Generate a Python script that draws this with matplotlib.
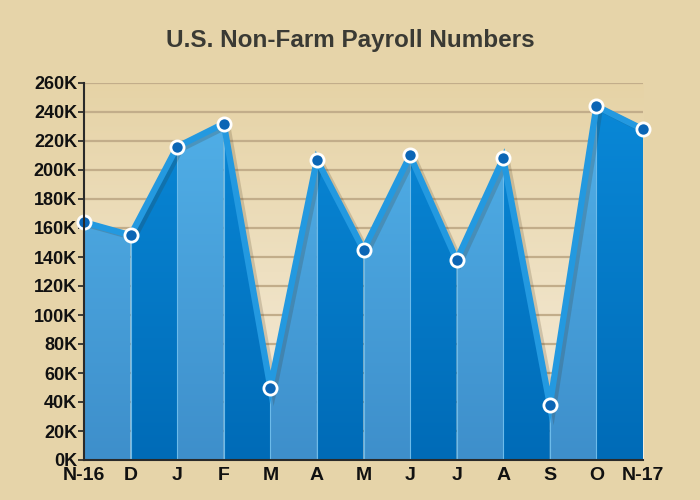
import matplotlib.pyplot as plt
import matplotlib.patheffects as pe
import numpy as np
from matplotlib.patches import Polygon
from matplotlib.colors import LinearSegmentedColormap

# monthly change in non-farm payrolls, thousands
months = ['N-16', 'D', 'J', 'F', 'M', 'A', 'M', 'J', 'J', 'A', 'S', 'O', 'N-17']
payrolls = [164, 155, 216, 232, 50, 207, 145, 210, 138, 208, 38, 244, 228]
y_ticks = list(range(0, 261, 20))
y_labels = [f'{v}K' for v in y_ticks]

plt.rcParams['font.family'] = ['Liberation Sans', 'DejaVu Sans']

fig = plt.figure(figsize=(7, 5), dpi=100, facecolor='#e6d4a9')
ax = fig.add_axes([0.12, 0.08, 0.7986, 0.754])
x = np.arange(len(months))
ymax = 260
ax.set_xlim(0, len(months) - 1)
ax.set_ylim(0, ymax)

# background gradient of plot area
bg = LinearSegmentedColormap.from_list('bg', ['#f6eddc', '#e6d3a6'])
grad = np.linspace(0, 1, 256).reshape(-1, 1)
ax.imshow(grad, cmap=bg, aspect='auto', origin='lower',
          extent=[0, len(months) - 1, 0, ymax], zorder=0)

for v in y_ticks[1:]:
    ax.axhline(v, color='#c2ad8a', lw=1.6, zorder=1)

light = LinearSegmentedColormap.from_list('light', ['#3e8fcb', '#52b2ea'])
dark = LinearSegmentedColormap.from_list('dark', ['#006bb7', '#0a8ad9'])

for i in range(len(months) - 1):
    poly = Polygon([(x[i], 0), (x[i], payrolls[i]),
                    (x[i + 1], payrolls[i + 1]), (x[i + 1], 0)],
                   closed=True, facecolor='none', edgecolor='none')
    ax.add_patch(poly)
    cm = light if i % 2 == 0 else dark
    im = ax.imshow(grad, cmap=cm, aspect='auto', origin='lower',
                   extent=[x[i], x[i + 1], 0, ymax], zorder=2)
    im.set_clip_path(poly)

for i in range(1, len(months) - 1):
    ax.plot([x[i], x[i]], [0, payrolls[i]], color='#6dbbea', lw=0.8, zorder=3)

ax.plot(x, payrolls, color='#2399e0', lw=4.5, zorder=4, solid_joinstyle='miter',
        path_effects=[pe.SimpleLineShadow(offset=(2.5, -1.5), shadow_color='#3a2a10', alpha=0.18),
                      pe.Normal()])
ax.plot(x, payrolls, ls='none', marker='o', ms=9.5, mfc='#0b65b5', mec='white',
        mew=2, zorder=5, clip_on=False)

ax.set_yticks(y_ticks)
ax.set_yticklabels(y_labels)
ax.set_xticks(x)
ax.set_xticklabels(months)
for lbl in ax.get_yticklabels():
    lbl.set_fontweight('bold')
    lbl.set_fontsize(13)
    lbl.set_color('#111111')
for lbl in ax.get_xticklabels():
    lbl.set_fontweight('bold')
    lbl.set_fontsize(14)
    lbl.set_color('#111111')
ax.tick_params(axis='x', length=0, pad=5)
ax.tick_params(axis='y', length=4, width=1.2, color='#222222', pad=1)

for s in ['top', 'right']:
    ax.spines[s].set_visible(False)
for s in ['left', 'bottom']:
    ax.spines[s].set_color('#2a2a2a')
    ax.spines[s].set_linewidth(1.5)
    ax.spines[s].set_zorder(6)

fig.text(0.5, 0.918, 'U.S. Non-Farm Payroll Numbers', ha='center', va='center',
         fontsize=17.5, fontweight='bold', color='#3a3a34')

fig.savefig('out.png', dpi=100, facecolor=fig.get_facecolor())
